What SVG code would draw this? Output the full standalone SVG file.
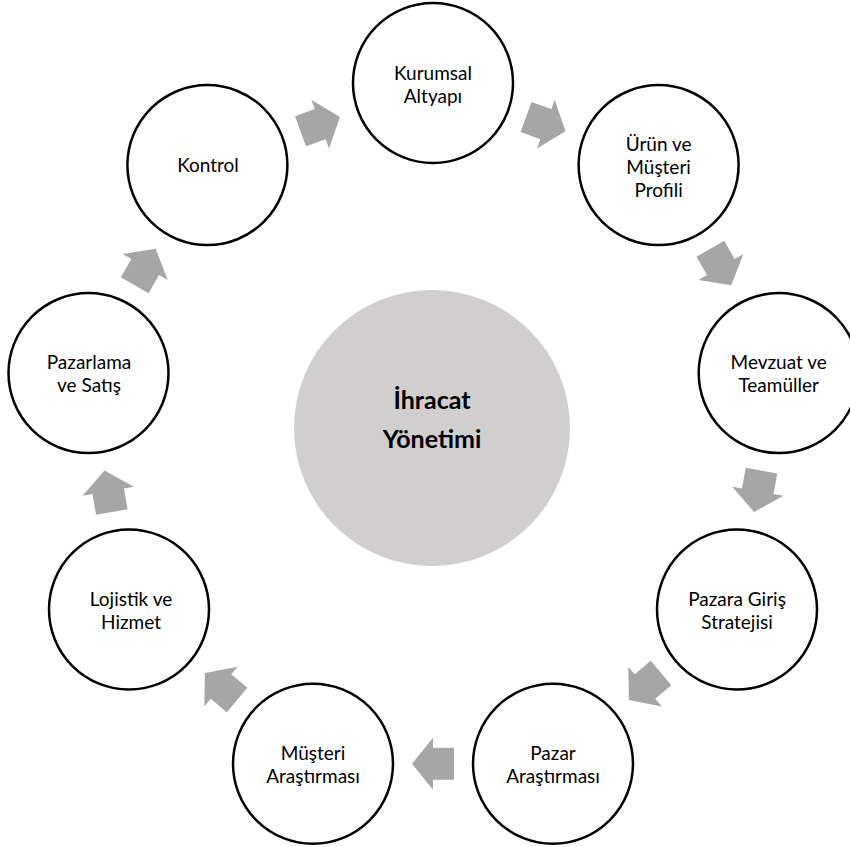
<svg xmlns="http://www.w3.org/2000/svg" width="850" height="847" viewBox="0 0 850 847">
<style>
.node{fill:#fff;stroke:#000;stroke-width:2.5}
.hub{fill:#d0cecf}
.lbl{font-family:Lato,"Liberation Sans",sans-serif;font-size:19px;fill:#000;text-anchor:middle}
.hubl{font-family:Lato,"Liberation Sans",sans-serif;font-size:25px;font-weight:bold;fill:#000;text-anchor:middle}
.arr{fill:#a6a6a6}
</style>
<defs>
<path id="ar" d="M-21,-16 H0 V-26 L21,0 L0,26 V16 H-21 Z"/>
</defs>
<rect width="850" height="847" fill="#fff"/>
<g id="connectors">
<use href="#ar" class="arr" transform="translate(320.2,124.1) rotate(340)"/>
<use href="#ar" class="arr" transform="translate(545.8,124.1) rotate(20)"/>
<use href="#ar" class="arr" transform="translate(720.8,267) rotate(60)"/>
<use href="#ar" class="arr" transform="translate(757.8,491.3) rotate(100)"/>
<use href="#ar" class="arr" transform="translate(645,686.6) rotate(140)"/>
<use href="#ar" class="arr" transform="translate(433,763.8) rotate(180)"/>
<use href="#ar" class="arr" transform="translate(221,686.6) rotate(220)"/>
<use href="#ar" class="arr" transform="translate(108.2,491.3) rotate(260)"/>
<use href="#ar" class="arr" transform="translate(145.2,267) rotate(300)"/>
</g>
<g id="hub">
<circle class="hub" cx="432" cy="428" r="138"/>
<text class="hubl" x="432" y="409">İhracat</text>
<text class="hubl" x="432" y="448">Yönetimi</text>
</g>
<g id="n1">
<circle class="node" cx="433" cy="83" r="80"/>
<text class="lbl" x="433" y="80">Kurumsal</text>
<text class="lbl" x="433" y="103">Altyapı</text>
</g>
<g id="n2">
<circle class="node" cx="658.6" cy="165.1" r="80"/>
<text class="lbl" x="658.6" y="151">Ürün ve</text>
<text class="lbl" x="658.6" y="174">Müşteri</text>
<text class="lbl" x="658.6" y="197">Profili</text>
</g>
<g id="n3">
<circle class="node" cx="778.7" cy="373.1" r="80"/>
<text class="lbl" x="778.7" y="369">Mevzuat ve</text>
<text class="lbl" x="778.7" y="392">Teamüller</text>
</g>
<g id="n4">
<circle class="node" cx="737" cy="609.5" r="80"/>
<text class="lbl" x="737" y="606">Pazara Giriş</text>
<text class="lbl" x="737" y="629">Stratejisi</text>
</g>
<g id="n5">
<circle class="node" cx="553" cy="763.8" r="80"/>
<text class="lbl" x="553" y="760">Pazar</text>
<text class="lbl" x="553" y="783">Araştırması</text>
</g>
<g id="n6">
<circle class="node" cx="313" cy="763.8" r="80"/>
<text class="lbl" x="313" y="760">Müşteri</text>
<text class="lbl" x="313" y="783">Araştırması</text>
</g>
<g id="n7">
<circle class="node" cx="129" cy="609.5" r="80"/>
<text class="lbl" x="131" y="606">Lojistik ve</text>
<text class="lbl" x="131" y="629">Hizmet</text>
</g>
<g id="n8">
<circle class="node" cx="88.5" cy="373.1" r="80"/>
<text class="lbl" x="89" y="369">Pazarlama</text>
<text class="lbl" x="89" y="392">ve Satış</text>
</g>
<g id="n9">
<circle class="node" cx="207.4" cy="165.1" r="80"/>
<text class="lbl" x="208" y="172">Kontrol</text>
</g>
</svg>
